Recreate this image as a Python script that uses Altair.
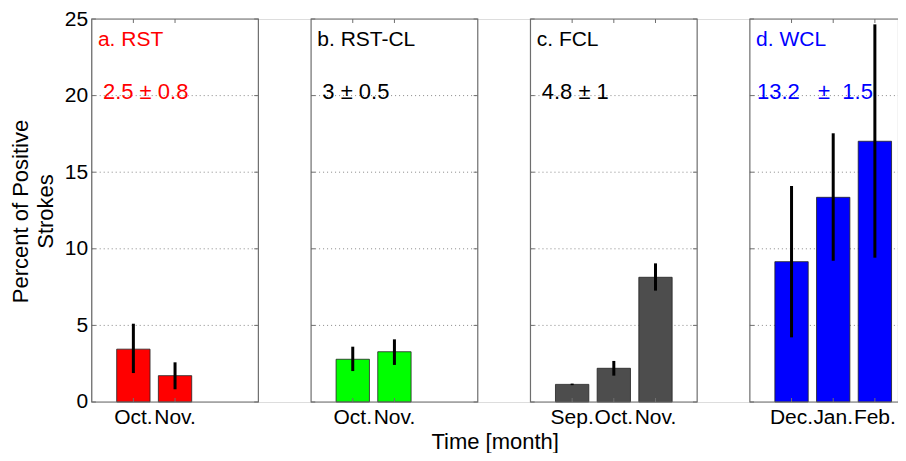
import altair as alt
import pandas as pd

# ---------------- data ----------------
panel_titles = ["a. RST", "b. RST-CL", "c. FCL", "d. WCL"]
panel_stats = ["2.5 ± 0.8", "3 ± 0.5", "4.8 ± 1", "13.2\u00a0\u00a0\u00a0±\u00a0 1.5"]
text_colors = ["#ff0000", "#000000", "#000000", "#0000ff"]
bar_colors = ["#ff0000", "#00ff00", "#4d4d4d", "#0000ff"]

months = [
    ["Oct.", "Nov."],
    ["Oct.", "Nov."],
    ["Sep.", "Oct.", "Nov."],
    ["Dec.", "Jan.", "Feb."],
]
values = [
    [3.45, 1.72],
    [2.79, 3.28],
    [1.15, 2.20, 8.14],
    [9.16, 13.36, 17.02],
]
err_low = [
    [1.89, 0.83],
    [2.02, 2.42],
    [1.10, 1.72, 7.27],
    [4.22, 9.22, 9.42],
]
err_high = [
    [5.11, 2.59],
    [3.61, 4.09],
    [1.20, 2.68, 9.05],
    [14.10, 17.54, 24.65],
]
y_ticks = [0, 5, 10, 15, 20, 25]
grid_levels = [5, 10, 15, 20]

# ---------------- layout ----------------
PX_PER_UNIT = 41.67
PLOT_W = 806
PLOT_H = 383
X_MAX = PLOT_W / PX_PER_UNIT
PANEL_STEP = 5.265
PANEL_SPAN = 4.0
BAR_HALF = 0.4
FONT = "Arial, Liberation Sans, Helvetica, sans-serif"
FS = 21
FS_BIG = 22

bars, frames, grids, ticks, notes = [], [], [], [], []
for p in range(4):
    x0 = p * PANEL_STEP
    x1 = x0 + PANEL_SPAN
    frames.append({"x0": x0, "x1": x1, "y0": 0, "y1": 25})
    for g in grid_levels:
        grids.append({"x0": x0, "x1": x1, "y": g})
    for t in y_ticks:
        ticks.append({"x0": x0, "x1": x0 + 0.1, "y0": t, "y1": t})
        ticks.append({"x0": x1 - 0.1, "x1": x1, "y0": t, "y1": t})
    for i, m in enumerate(months[p]):
        c = x0 + i + 1
        bars.append({
            "xc": c, "xl": c - BAR_HALF, "xr": c + BAR_HALF,
            "zero": 0, "v": values[p][i], "lo": err_low[p][i], "hi": err_high[p][i],
            "color": bar_colors[p], "month": m,
        })
        ticks.append({"x0": c, "x1": c, "y0": 25, "y1": 24.74})
        ticks.append({"x0": c, "x1": c, "y0": 0, "y1": 0.26})
    notes.append({"x": x0 + 0.15, "y": 23.25, "t": panel_titles[p], "color": text_colors[p], "fs": FS})
    notes.append({"x": x0 + (0.17 if p == 3 else 0.27), "y": 19.8, "t": panel_stats[p],
                  "color": text_colors[p], "fs": FS_BIG})

bars = pd.DataFrame(bars)
frames = pd.DataFrame(frames)
grids = pd.DataFrame(grids)
ticks = pd.DataFrame(ticks)
notes = pd.DataFrame(notes)

xscale = alt.Scale(domain=[0, X_MAX], nice=False, zero=False)
yscale = alt.Scale(domain=[0, 25], nice=False, zero=False)
xaxis = alt.Axis(title="Time [month]", labels=False, ticks=False, domain=False, grid=False,
                 titleFontSize=FS_BIG, titleFont=FONT, titleFontWeight="normal", titleColor="black",
                 titleBaseline="alphabetic", titleY=47)
yaxis = alt.Axis(title=["Percent of Positive", "Strokes"], values=y_ticks, ticks=False, domain=False,
                 grid=False, labelFontSize=FS, labelFont=FONT, labelColor="black", labelPadding=4,
                 titleFontSize=FS_BIG, titleFont=FONT, titleFontWeight="normal", titleColor="black",
                 titleX=-71, titleY=192, titleBaseline="middle", titleAlign="center", titleLineHeight=25)


def X(f):
    return alt.X(f, type="quantitative", scale=xscale, axis=xaxis)


def Y(f):
    return alt.Y(f, type="quantitative", scale=yscale, axis=yaxis)


grid_layer = alt.Chart(grids).mark_rule(color="#888888", strokeDash=[1, 3], strokeWidth=1).encode(
    x=X("x0"), x2="x1", y=Y("y"))

bar_layer = alt.Chart(bars).mark_rect(stroke="#222222", strokeWidth=0.8).encode(
    x=X("xl"), x2="xr", y=Y("zero"), y2="v", color=alt.Color("color:N", scale=None))

err_layer = alt.Chart(bars).mark_rule(color="black", strokeWidth=3).encode(
    x=X("xc"), y=Y("lo"), y2="hi")

frame_layer = alt.Chart(frames).mark_rect(fillOpacity=0, stroke="#6e6e6e", strokeWidth=1.2).encode(
    x=X("x0"), x2="x1", y=Y("y0"), y2="y1")

tick_layer = alt.Chart(ticks).mark_rule(color="#6e6e6e", strokeWidth=1).encode(
    x=X("x0"), x2="x1", y=Y("y0"), y2="y1")

month_layer = alt.Chart(bars).mark_text(fontSize=FS, font=FONT, color="black", baseline="alphabetic",
                                        align="center", dy=22).encode(
    x=X("xc"), y=Y("zero"), text="month:N")

note_layer = alt.Chart(notes).mark_text(font=FONT, baseline="alphabetic", align="left").encode(
    x=X("x"), y=Y("y"), text="t:N", color=alt.Color("color:N", scale=None),
    size=alt.Size("fs:Q", scale=None))

chart = alt.layer(grid_layer, bar_layer, err_layer, frame_layer, tick_layer, month_layer, note_layer).properties(
    width=PLOT_W, height=PLOT_H,
    autosize=alt.AutoSizeParams(type="none"),
    padding={"left": 83.7, "top": 11, "right": 0, "bottom": 51},
).configure_view(stroke=None).configure(background="white")

chart.save("out.html", embed_options={"renderer": "svg", "actions": False})
